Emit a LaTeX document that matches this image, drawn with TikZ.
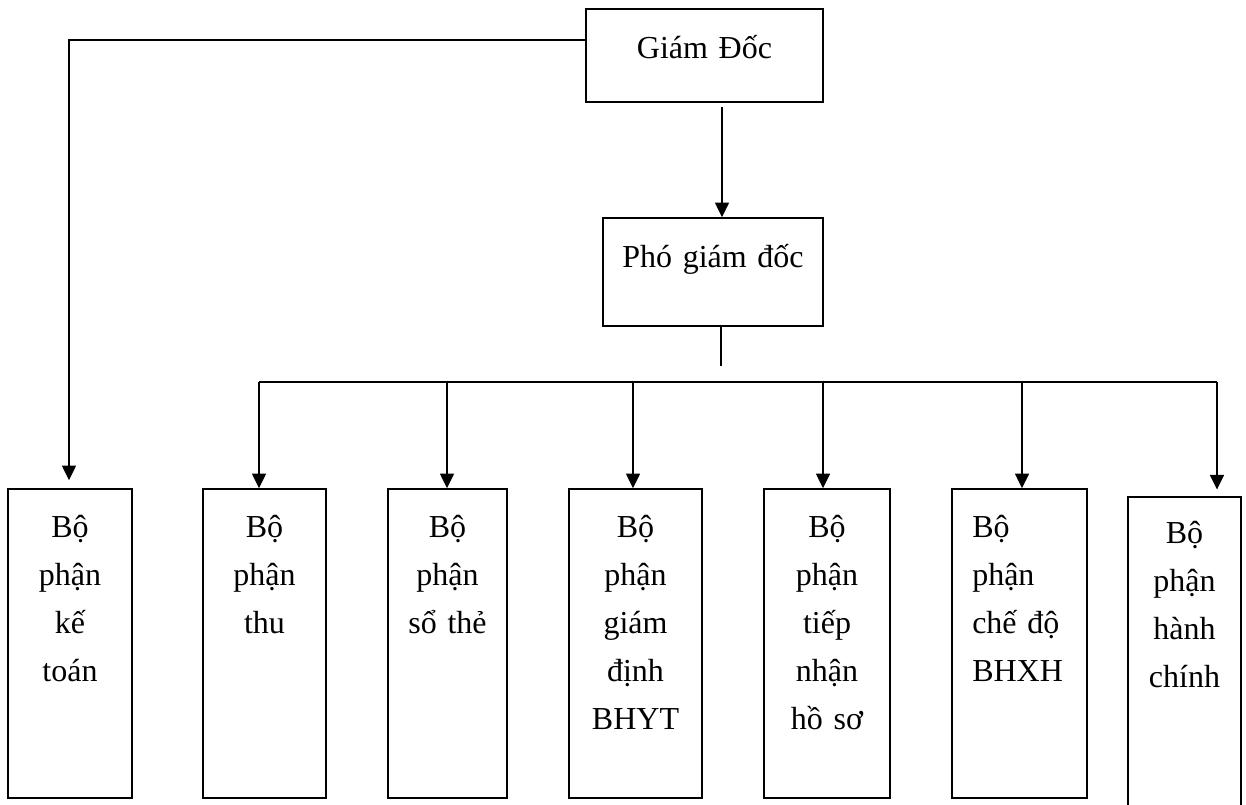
\documentclass[tikz,border=0pt]{standalone}
\usepackage{fontspec}
\setmainfont{Liberation Serif}
\usetikzlibrary{arrows.meta,positioning}

\tikzset{
  box/.style={draw, line width=1.2pt, inner sep=0pt},
  dept/.style={box, minimum width=#1, minimum height=231.75pt},
  txt/.style={inner sep=0pt, anchor=base, align=center, text width=#1,
    font=\fontsize{24}{36}\selectfont},
  line/.style={line width=1.2pt},
  arr/.style={line, -{Triangle[length=11pt,width=10.5pt]}}
}

\begin{document}
\begin{tikzpicture}[x=0.75pt,y=-0.75pt]

  \useasboundingbox (0,0) rectangle (1246,804);

  \node[box, minimum width=177.75pt, minimum height=69.75pt] (gd) at (704.5,55.5) {};
  \node[box, minimum width=165pt, minimum height=81pt] (pgd) at (713,272) {};

  \node[dept=93pt] (kt) at (70,643.5) {};
  \node[dept=92.25pt] (thu) at (264.5,643.5) {};
  \node[dept=89.25pt] (st) at (447.5,643.5) {};
  \node[dept=99.75pt] (gdinh) at (635.5,643.5) {};
  \node[dept=94.5pt] (tn) at (827,643.5) {};
  \node[dept=101.25pt] (cd) at (1019.5,643.5) {};
  \node[box, minimum width=84.75pt, minimum height=236.25pt] (hc) at (1184.5,654.5) {};

  % texts
  \node[txt=170pt] (gd-t) at (704.5,58) {Giám Đốc};
  \node[txt=160pt] (pgd-t) at (713,267) {Phó giám đốc};
  \node[txt=80pt] (kt-t) at (70,537) {Bộ\\phận\\kế\\toán};
  \node[txt=80pt] (thu-t) at (264.5,537) {Bộ\\phận\\thu};
  \node[txt=80pt] (st-t) at (447.5,537) {Bộ\\phận\\sổ thẻ};
  \node[txt=80pt] (gdinh-t) at (635.5,537) {Bộ\\phận\\giám\\định\\BHYT};
  \node[txt=80pt] (tn-t) at (827,537) {Bộ\\phận\\tiếp\\nhận\\hồ sơ};
  \node[txt=85pt, align=left, anchor=base west] (cd-t) at (972,537) {Bộ\\phận\\chế độ\\BHXH};
  \node[txt=80pt] (hc-t) at (1184.5,543) {Bộ\\phận\\hành\\chính};

  % connectors
  \coordinate (tl) at (69,40);
  \coordinate (a1) at (722,107);
  \coordinate (s1) at (721,366);
  \coordinate (bl) at (259,382);
  \coordinate (br) at (1217,382);

  \draw[arr, shorten >=6pt] (gd.west |- tl) -- (tl) -- (tl |- kt.north);
  \draw[arr] (a1) -- (a1 |- pgd.north);
  \draw[line] (s1 |- pgd.south) -- (s1);
  \draw[line] (bl) -- (br);
  \foreach \x/\n in {259/thu,447/st,633/gdinh,823/tn,1022/cd}
    \draw[arr] (\x,382) -- (\x,382 |- \n.north);
  \draw[arr, shorten >=5pt] (br) -- (br |- hc.north);

\end{tikzpicture}
\end{document}
